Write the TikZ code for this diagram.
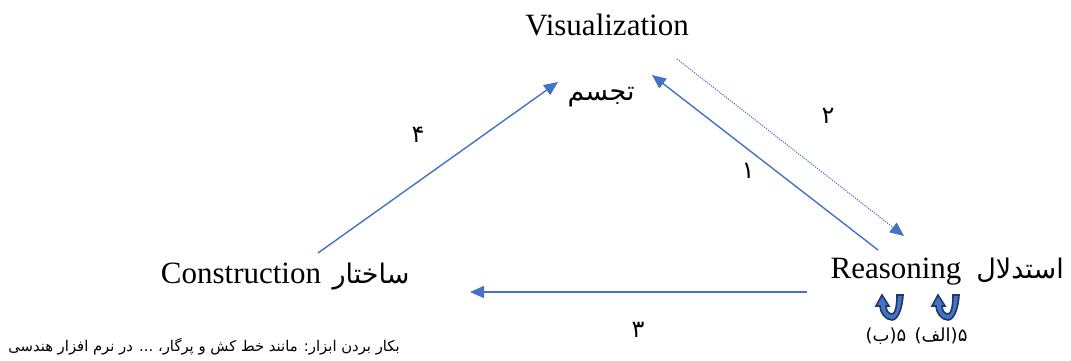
\documentclass[tikz,border=0pt]{standalone}
\usepackage{fontspec}
\setmainfont{Liberation Serif}
\newfontfamily\arabicfont[Script=Arabic]{DejaVu Sans}
\TeXXeTstate=1
\usetikzlibrary{arrows.meta}

\definecolor{linkblue}{RGB}{68,114,196}
\definecolor{darkblue}{RGB}{32,56,100}

% persian text, right to left
\newcommand{\fa}[1]{\beginR #1\endR}
% small U-turn block arrow, origin at the bottom of the U
\newcommand{\uturnarrow}[2]{%
  \path[uturn, shift={(#1,#2)}] (11,-24) .. controls (10,-8) and (5,1) .. (0,1)
    .. controls (-7,1) and (-12,-7) .. (-12,-13) -- (-16,-13) -- (-10,-24)
    -- (-3,-13) -- (-6,-13) .. controls (-6,-8) and (-3,-5) .. (0,-5)
    .. controls (3,-5) and (5,-12) .. (5,-24) -- cycle;}

\begin{document}
\begin{tikzpicture}[
  x=0.5pt, y=-0.5pt,
  every node/.style={inner sep=0pt},
  term/.style={font=\fontsize{15.5}{18}\selectfont, anchor=base},
  faterm/.style={font=\arabicfont\fontsize{13.5}{16}\selectfont, anchor=base},
  num/.style={font=\arabicfont\fontsize{12}{14}\selectfont},
  sub/.style={font=\arabicfont\fontsize{9}{11}\selectfont},
  note/.style={font=\arabicfont\fontsize{7.4}{9}\selectfont},
  link/.style={draw=linkblue, line width=0.7pt, -{Triangle[length=7pt,width=6pt]}},
  dotlink/.style={link, line width=0.5pt, dash pattern=on 0.6pt off 0.6pt},
  uturn/.style={draw=darkblue, line width=0.8pt, fill=linkblue}
]
  \useasboundingbox (0,0) rectangle (1071,360);

  % terms
  \node[term]   (vis)    at (607,35)  {Visualization};
  \node[faterm] (tajas)  at (601,100) {\fa{تجسم}};
  \node[term]   (reas)   at (896,278) {Reasoning};
  \node[faterm] (estd)   at (1020,278) {\fa{استدلال}};
  \node[term]   (constr) at (241,283) {Construction};
  \node[faterm] (sakht)  at (371,283) {\fa{ساختار}};
  \node[note]   (tools)  at (204,347) {\fa{بکار بردن ابزار: مانند خط کش و پرگار، ... در نرم افزار هندسی}};

  % step numbers
  \node[num] (n1) at (748,171) {\fa{۱}};
  \node[num] (n2) at (828,116) {\fa{۲}};
  \node[num] (n3) at (638,330) {\fa{۳}};
  \node[num] (n4) at (418,135) {\fa{۴}};
  \node[sub] (n5a) at (941,336) {\fa{۵(الف)}};
  \node[sub] (n5b) at (886,336) {\fa{۵(ب)}};

  % arrow ends
  \coordinate (a1s) at (878,250);
  \coordinate (a1e) at (652,75);
  \coordinate (a2s) at (677,59);
  \coordinate (a2e) at (904,236);
  \coordinate (a3s) at (807,292);
  \coordinate (a3e) at (470,292);
  \coordinate (a4s) at (318,253);
  \coordinate (a4e) at (558,82);

  \draw[link]    (a1s) -- (a1e);
  \draw[dotlink] (a2s) -- (a2e);
  \draw[link]    (a3s) -- (a3e);
  \draw[link]    (a4s) -- (a4e);

  \uturnarrow{892}{319}
  \uturnarrow{948}{319}
\end{tikzpicture}
\end{document}
